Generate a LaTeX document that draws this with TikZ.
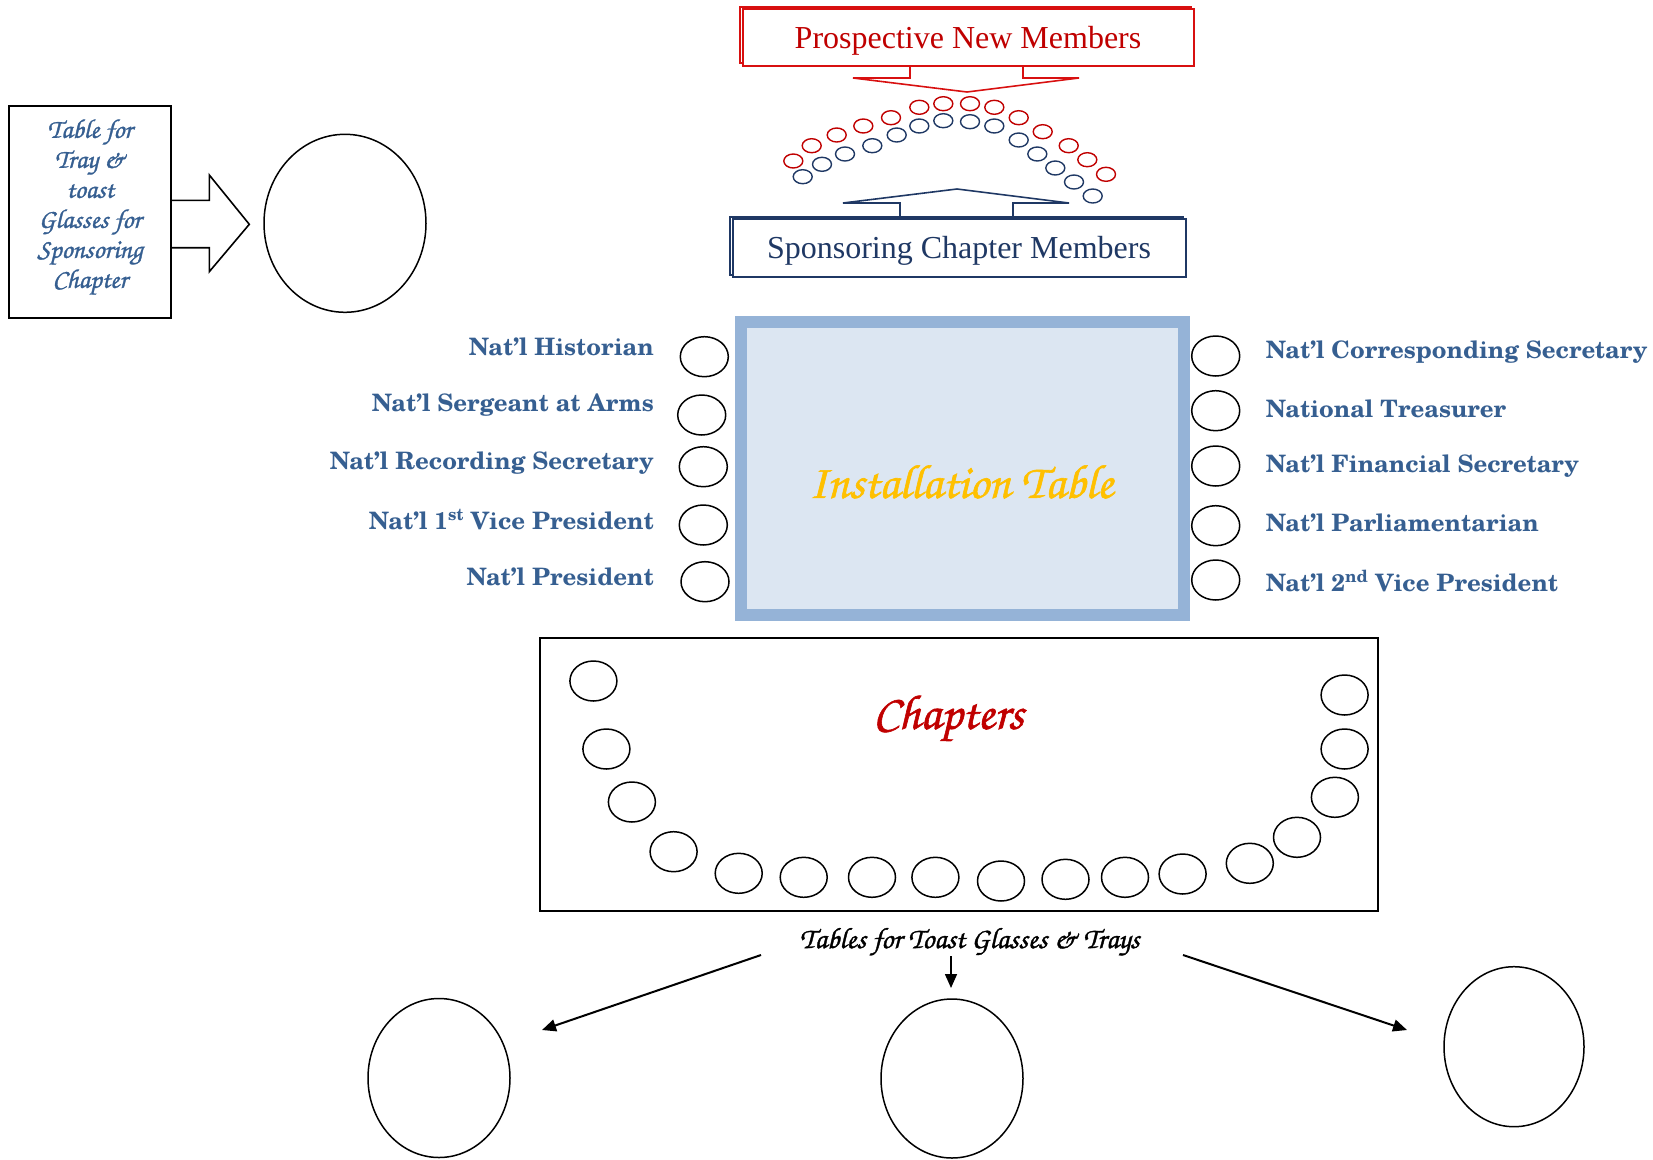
\documentclass[tikz,border=0pt]{standalone}
\usepackage{fontspec}
\setmainfont{Liberation Serif}
\newfontfamily\lblfont{texgyreschola-bold.otf}
\newfontfamily\scrfont[FakeBold=1.2]{texgyrechorus-mediumitalic.otf}
\usetikzlibrary{shapes.geometric,arrows.meta}
\definecolor{pnmred}{HTML}{C00000}
\definecolor{boxred}{HTML}{D81010}
\definecolor{navy}{HTML}{1F3864}
\definecolor{lblblue}{HTML}{365F91}
\definecolor{band}{HTML}{95B3D7}
\definecolor{tablefill}{HTML}{DCE6F2}
\definecolor{gold}{HTML}{FFC000}
\tikzset{
  seat/.style={ellipse, draw=black, line width=1.5pt, minimum width=48pt, minimum height=40pt, inner sep=0pt},
  rseat/.style={ellipse, draw=pnmred, line width=1.4pt, minimum width=19pt, minimum height=14pt, inner sep=0pt},
  bseat/.style={ellipse, draw=navy, line width=1.4pt, minimum width=19pt, minimum height=14pt, inner sep=0pt},
  bigtable/.style={ellipse, draw=black, line width=1.5pt, inner sep=0pt},
  lbl/.style={font=\lblfont\fontsize{24}{28}\selectfont, text=lblblue, inner sep=0pt},
  arr/.style={line width=2pt, -{Triangle[length=14pt,width=12pt]}},
}
\begin{document}
\begin{tikzpicture}[x=1pt,y=-1pt]
\useasboundingbox (0,0) rectangle (1653,1159);

% ---- Prospective New Members
\draw[boxred, line width=1.3pt] (740,7) rectangle (1191,63);
\draw[boxred, line width=1.6pt, fill=white] (743,9) rectangle (1194,66);
\node[inner sep=0pt, text=pnmred, font=\fontsize{32}{36}\selectfont] (pnm) at (968,41) {Prospective New Members};
\draw[boxred, line width=1.6pt] (910,66) -- (910,78) -- (853,78) -- (967,92) -- (1079,78) -- (1023,78) -- (1023,66);

% ---- Sponsoring Chapter Members
\draw[navy, line width=1.3pt] (730,217) rectangle (1183,275);
\draw[navy, line width=1.6pt, fill=white] (733,219) rectangle (1186,277);
\node[inner sep=0pt, text=navy, font=\fontsize{32}{36}\selectfont] (scm) at (959,251) {Sponsoring Chapter Members};
\draw[navy, line width=1.6pt] (900,219) -- (900,203) -- (843,203) -- (957,189) -- (1069,203) -- (1013,203) -- (1013,219);

% ---- arc of seats
\foreach \x/\y [count=\i] in {793.3/161, 811.7/145.7, 836.7/135, 863.3/126, 891/117.7, 919.3/107.3, 943.3/103.7, 970/103.7, 994.3/107.3, 1018.7/117.7, 1042.7/131.7, 1068.7/145.7, 1087.3/159.7, 1106/174.3}
  \node[rseat] (r\i) at (\x,\y) {};
\foreach \x/\y [count=\i] in {802.7/176.7, 822/164.3, 845/154, 872.3/145.7, 896.7/135, 919.3/126, 943.3/120.7, 970/121.7, 994.3/126, 1018.7/140, 1037.3/154, 1055.3/168, 1074/182, 1092.7/196}
  \node[bseat] (b\i) at (\x,\y) {};

% ---- Sponsoring chapter table
\node[draw=black, line width=2pt, minimum width=162pt, minimum height=212pt, inner sep=0pt] (tray) at (90,211.7) {};
\node[inner sep=0pt, align=center, text=lblblue, font=\scrfont\fontsize{27}{30}\selectfont] (traytxt) at (90,207)
  {Table for\\Tray \&\\toast\\Glasses for\\Sponsoring\\Chapter};
\draw[line width=1.6pt, fill=white] (tray.east |- 0,200.3) -- (209.3,200.3) -- (209.3,175) -- (249.3,224.3) -- (209.3,271.7) -- (209.3,247.7) -- (tray.east |- 0,247.7);
\node[bigtable, minimum width=162pt, minimum height=178pt] (spt) at (345,223.3) {};

% ---- Installation table
\node[draw=band, line width=12pt, fill=tablefill, minimum width=443pt, minimum height=292.7pt, inner sep=0pt] (inst) at (962.5,468.2) {};
\node[inner sep=0pt, text=gold, font=\scrfont\fontsize{48}{54}\selectfont] (insttxt) at (961,482) {Installation Table};

% ---- officers left
\node[seat] (hist) at (704.3,356.7) {};
\node[seat] (serg) at (701.7,415) {};
\node[seat] (rec)  at (703.3,466.7) {};
\node[seat] (vp1)  at (703.3,525) {};
\node[seat] (pres) at (705,581.7) {};
\node[lbl, anchor=east] (thist) at (654,346.7) {Nat’l Historian};
\node[lbl, anchor=east] (tserg) at (654,405) {Nat’l Sergeant at Arms};
\node[lbl, anchor=east] (trec)  at (654,463.3) {Nat’l Recording Secretary};
\node[lbl, anchor=east] (tvp1)  at (654,519.3) {Nat’l 1\textsuperscript{st} Vice President};
\node[lbl, anchor=east] (tpres) at (654,576.7) {Nat’l President};

% ---- officers right
\node[seat] (corr) at (1215.7,356) {};
\node[seat] (treas) at (1215.7,410.7) {};
\node[seat] (fin) at (1215.7,466) {};
\node[seat] (parl) at (1215.7,525.7) {};
\node[seat] (vp2) at (1215.7,580) {};
\node[lbl, anchor=west] (tcorr) at (1265.7,351.7) {Nat’l Corresponding Secretary};
\node[lbl, anchor=west] (ttreas) at (1265.7,409) {National Treasurer};
\node[lbl, anchor=west] (tfin) at (1265.7,465.7) {Nat’l Financial Secretary};
\node[lbl, anchor=west] (tparl) at (1265.7,523.3) {Nat’l Parliamentarian};
\node[lbl, anchor=west] (tvp2) at (1265.7,580.7) {Nat’l 2\textsuperscript{nd} Vice President};

% ---- Chapters
\node[draw=black, line width=2pt, minimum width=838pt, minimum height=273pt, inner sep=0pt] (chap) at (958.9,774) {};
\node[inner sep=0pt, text=pnmred, font=\scrfont\fontsize{49}{54}\selectfont] (chaptxt) at (948.4,718.3) {Chapters};
\foreach \x/\y [count=\i] in {593.4/681, 606.4/749, 631.9/802, 673.6/851.7, 738.7/873.3, 803.7/877.3, 872/877.3, 935.4/877.3, 1001/881, 1065.5/879.3, 1125/877.3, 1182.6/874, 1249.8/863.3, 1297/837.3, 1334.9/797.3, 1344.6/749, 1344.6/695}
  \node[seat, minimum width=47pt, minimum height=40pt] (c\i) at (\x,\y) {};

% ---- Toast tables
\node[inner sep=0pt, text=black, font=\scrfont\fontsize{29.5}{32}\selectfont] (toast) at (969.7,941.7) {Tables for Toast Glasses \& Trays};
\node[bigtable, minimum width=142pt, minimum height=159pt] (tl) at (439,1078) {};
\node[bigtable, minimum width=142pt, minimum height=159pt] (tm) at (952,1078.5) {};
\node[bigtable, minimum width=140pt, minimum height=160pt] (tr) at (1514,1046.7) {};
\coordinate (la0) at (761,955);
\coordinate (la1) at (542,1030);
\coordinate (ma0) at (951,956);
\coordinate (ma1) at (951,988);
\coordinate (ra0) at (1183,955);
\coordinate (ra1) at (1407,1030);
\draw[arr] (la0) -- (la1);
\draw[arr, line width=1.5pt] (ma0) -- (ma1);
\draw[arr] (ra0) -- (ra1);
\end{tikzpicture}
\end{document}
